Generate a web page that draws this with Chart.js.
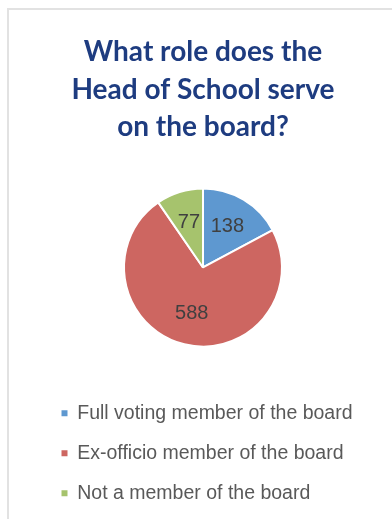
<!DOCTYPE html>
<html>
<head>
<meta charset="utf-8">
<script src="https://cdn.jsdelivr.net/npm/chart.js@4"></script>
<style>
    html, body { margin: 0; padding: 0; background: #fff; }
    #wrap { position: relative; width: 392px; height: 519px; }
    #frame { position: absolute; left: 7px; top: 8px; right: 0; bottom: 0;
             border-left: 2px solid #e2e2e2; border-top: 2px solid #e2e2e2; }
    canvas { position: absolute; left: 0; top: 0; }
</style>
</head>
<body>
<div id="wrap">
    <div id="frame"></div>
    <canvas id="pie-chart" width="392" height="519"></canvas>
</div>
<script>
// Data
var categories = ["Full voting member of the board", "Ex-officio member of the board", "Not a member of the board"];
var counts = [138, 588, 77];
var sliceColors = ["#5e98d0", "#cd6661", "#a6c36d"];
var titleLines = ["What role does the", "Head of School serve", "on the board?"];

// Value labels inside the slices
var sliceLabels = {
    id: "sliceLabels",
    afterDatasetsDraw: function (chart) {
        var ctx = chart.ctx;
        var meta = chart.getDatasetMeta(0);
        ctx.save();
        ctx.font = "20px 'Liberation Sans', Arial, sans-serif";
        ctx.fillStyle = "#404040";
        ctx.textAlign = "center";
        ctx.textBaseline = "middle";
        meta.data.forEach(function (arc, i) {
            var p = arc.getProps(["x", "y", "startAngle", "endAngle", "outerRadius"], true);
            var mid = (p.startAngle + p.endAngle) / 2;
            var r = p.outerRadius * 0.6;
            ctx.fillText(counts[i], p.x + Math.cos(mid) * r, p.y + Math.sin(mid) * r);
        });
        ctx.restore();
    }
};

var ctx = document.getElementById("pie-chart").getContext("2d");
var myChart = new Chart(ctx, {
    type: "pie",
    data: {
        labels: categories,
        datasets: [{
            data: counts,
            backgroundColor: sliceColors,
            borderColor: "#ffffff",
            borderWidth: 2,
            radius: 79
        }]
    },
    options: {
        responsive: false,
        animation: false,
        layout: {
            padding: { left: 41, right: 27, top: 0, bottom: 6 }
        },
        plugins: {
            tooltip: { enabled: false },
            title: {
                display: true,
                text: titleLines,
                color: "#1e3c80",
                font: { family: "Lato", weight: "bold", size: 28, lineHeight: 1.345 },
                padding: { top: 33, bottom: 6 }
            },
            legend: {
                position: "bottom",
                align: "start",
                labels: {
                    boxWidth: 6,
                    boxHeight: 6,
                    padding: 20.5,
                    color: "#595959",
                    font: { family: "'Liberation Sans', Arial, sans-serif", size: 19.5 },
                    generateLabels: function (chart) {
                        var items = Chart.overrides.pie.plugins.legend.labels.generateLabels(chart);
                        items.forEach(function (it) { it.lineWidth = 0; });
                        return items;
                    }
                }
            }
        }
    },
    plugins: [sliceLabels]
});
</script>
</body>
</html>
